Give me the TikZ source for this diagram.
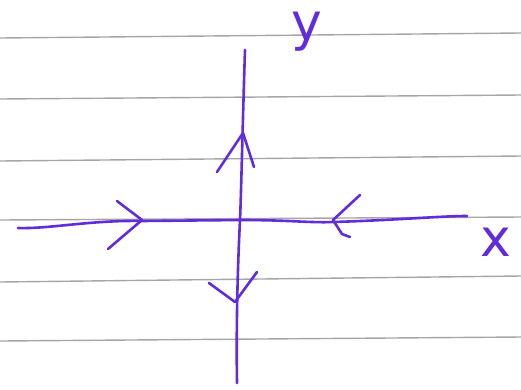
\documentclass[tikz,border=0pt]{standalone}
\usepackage{fontspec}
\setsansfont{DejaVu Sans}
\begin{document}
\begin{tikzpicture}[x=1pt,y=-1pt,
  rule/.style={draw=black!35, line width=1.4pt},
  ink/.style={draw=inkc, line width=2.6pt, line cap=round, line join=round},
  lbl/.style={text=inkc, inner sep=0pt, anchor=base, font=\fontsize{52}{52}\selectfont\sffamily}]
\definecolor{inkc}{RGB}{96,44,220}
\useasboundingbox[fill=white] (0,0) rectangle (521,389);
% ruled paper lines
\draw[rule] (0,38) -- (521,33);
\draw[rule] (0,99) -- (521,95);
\draw[rule] (0,161) -- (521,156);
\draw[rule] (0,220) -- (521,217);
\draw[rule] (0,282) -- (521,276);
\draw[rule] (0,341) -- (521,337);
% y axis
\draw[ink] (245,50) .. controls (243,110) and (241,200) .. (240,220)
  .. controls (238,260) and (236,320) .. (237,383);
% x axis
\draw[ink] (18,228) .. controls (50,229) and (90,220) .. (142,221)
  -- (240,220) .. controls (290,220) and (310,223) .. (333,222)
  .. controls (400,220) and (440,216) .. (467,216);
% arrow heads on x axis (pointing to origin)
\draw[ink] (117,201) -- (142,220) -- (108,249);
\draw[ink] (360,195) -- (333,220) -- (342,234) -- (350,237);
% arrow heads on y axis (pointing away from origin)
\draw[ink] (217,172) -- (243,133) -- (254,167);
\draw[ink] (209,283) -- (235,302) -- (257,272);
% labels
\node[lbl] (ylab) at (307,40) {y};
\node[lbl] (xlab) at (496,256) {x};
\end{tikzpicture}
\end{document}
